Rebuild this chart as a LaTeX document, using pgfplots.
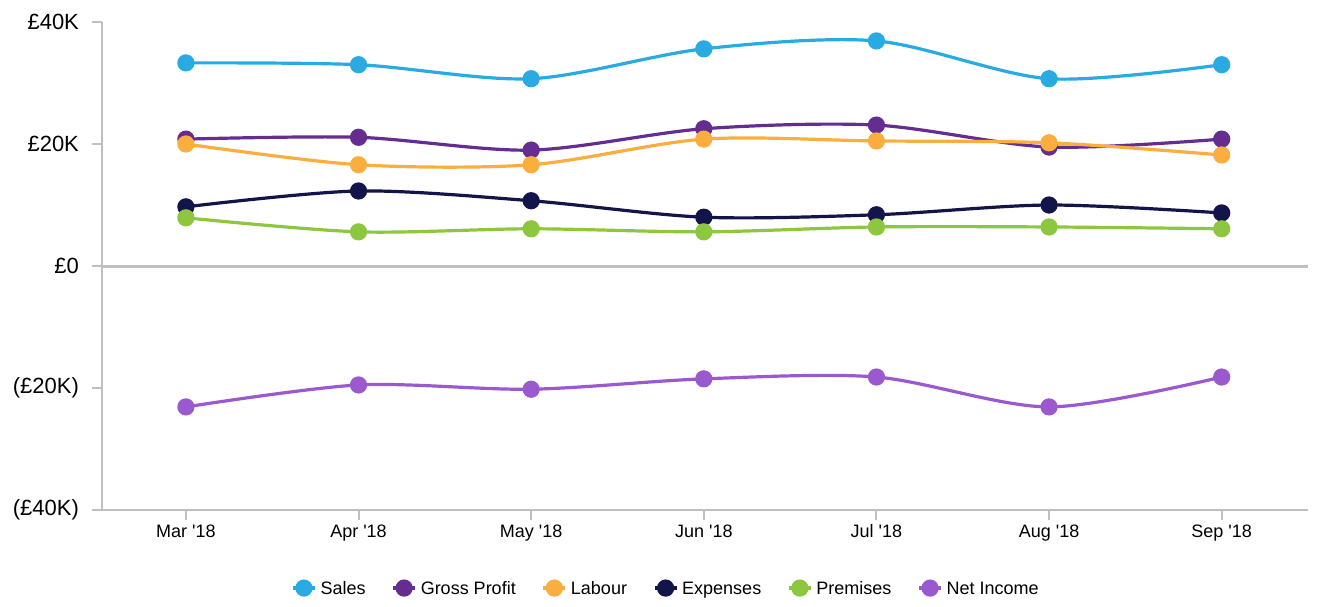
\documentclass[border=0pt]{standalone}
\usepackage{fontspec}
\setmainfont{Liberation Sans}
\usepackage{pgfplots}
\pgfplotsset{compat=1.18}

\definecolor{sales}{HTML}{29ABE2}
\definecolor{gross}{HTML}{662D91}
\definecolor{labour}{HTML}{FBAE40}
\definecolor{expenses}{HTML}{13144A}
\definecolor{premises}{HTML}{8DC63F}
\definecolor{netinc}{HTML}{9B59D0}
\definecolor{axisgrey}{HTML}{BFBFBF}

% month index, values in pounds
\pgfplotstableread{
m  sales  gross  labour  expenses  premises  net
0  33300  20800  20000   9700      7900      -23100
1  33000  21100  16600   12300     5600      -19500
2  30700  19000  16600   10700     6100      -20200
3  35600  22500  20800   8000      5600      -18500
4  36900  23100  20500   8400      6400      -18200
5  30700  19500  20200   10000     6400      -23100
6  33000  20800  18200   8700      6100      -18200
}\pl

\begin{document}
\begin{tikzpicture}
\begin{axis}[
    scale only axis, width=603pt, height=244pt,
    at={(0,0)}, anchor=south west,
    xmin=-0.486, xmax=6.5, ymin=-40000, ymax=40000,
    clip=false, scaled y ticks=false,
    axis x line=bottom, axis y line=left,
    axis line style={draw=axisgrey, line width=1pt, -},
    xtick={0,...,6},
    xticklabels={Mar \textquotesingle18, Apr \textquotesingle18, May \textquotesingle18, Jun \textquotesingle18, Jul \textquotesingle18, Aug \textquotesingle18, Sep \textquotesingle18},
    ytick={-40000,-20000,0,20000,40000},
    yticklabels={(£40K),(£20K),£0,£20K,£40K},
    tick style={draw=axisgrey, line width=1pt},
    tick align=outside, major tick length=5pt,
    xticklabel style={font=\fontsize{9}{11}\selectfont, yshift=3pt, text height=1.6ex, text depth=0.4ex},
    yticklabel style={font=\fontsize{11}{13}\selectfont, xshift=-3pt},
    every axis plot/.append style={line width=1.6pt, smooth, tension=0.5, mark=*, mark size=3.5pt},
    legend columns=6,
    legend style={draw=none, at={(axis description cs:0.4685,-0.16)}, anchor=center,
        font=\fontsize{9}{11}\selectfont,
        nodes={text height=1.6ex, text depth=0.4ex},
        /tikz/every even column/.append style={column sep=11pt}},
    legend image code/.code={\draw[#1, mark repeat=2, mark phase=2] plot coordinates {(-5.5pt,0pt) (0pt,0pt) (5.5pt,0pt)};},
]
\draw[axisgrey, line width=1.5pt] (axis cs:-0.486,0) -- (axis cs:6.5,0);
\addplot[sales, mark options={fill=sales}] table[x=m, y=sales] {\pl};
\addlegendentry{Sales}
\addplot[gross, mark options={fill=gross}] table[x=m, y=gross] {\pl};
\addlegendentry{Gross Profit}
\addplot[labour, mark options={fill=labour}] table[x=m, y=labour] {\pl};
\addlegendentry{Labour}
\addplot[expenses, mark options={fill=expenses}] table[x=m, y=expenses] {\pl};
\addlegendentry{Expenses}
\addplot[premises, mark options={fill=premises}] table[x=m, y=premises] {\pl};
\addlegendentry{Premises}
\addplot[netinc, mark options={fill=netinc}] table[x=m, y=net] {\pl};
\addlegendentry{Net Income}
\end{axis}
\useasboundingbox (-51pt,-45.5pt) rectangle (612pt,255pt);
\end{tikzpicture}
\end{document}
